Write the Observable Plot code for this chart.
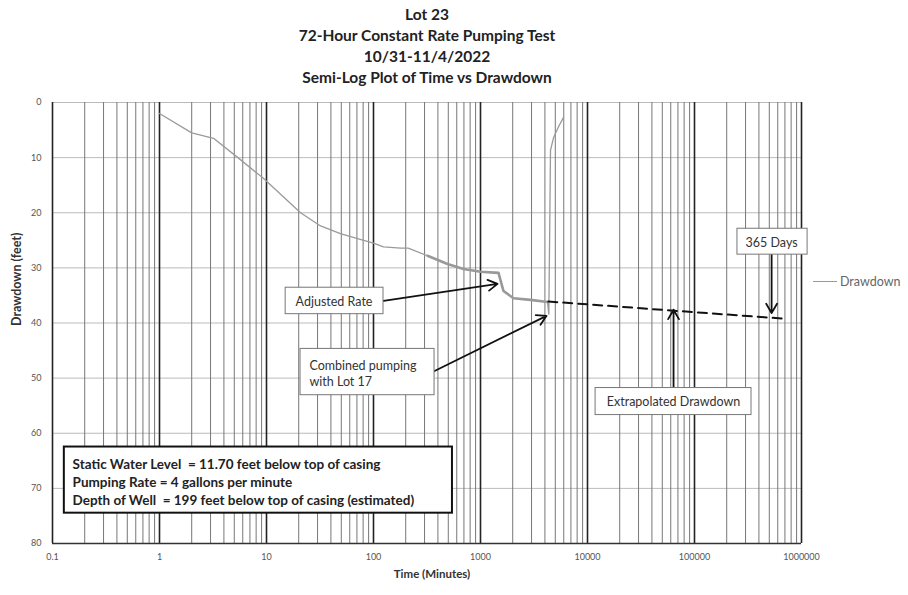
<!DOCTYPE html>
<html><head><meta charset="utf-8">
<script src="https://cdn.jsdelivr.net/npm/d3@7"></script>
<script src="https://cdn.jsdelivr.net/npm/@observablehq/plot@0.6"></script>
<style>
body{margin:0;background:#fff;font-family:Lato,"Open Sans",sans-serif;}
#wrap{position:relative;width:908px;height:595px;overflow:hidden;}
#title{position:absolute;left:0;top:4px;width:854px;text-align:center;font-weight:bold;font-size:15.5px;line-height:21px;color:#222;}
#chart{position:absolute;left:0;top:92px;}
#legend{position:absolute;left:813px;top:274px;font-size:12.5px;color:#666;display:flex;align-items:center;white-space:nowrap;}
#legend .sw{display:inline-block;width:24px;height:0;border-top:1.2px solid #999;margin-right:3px;}
</style></head>
<body><div id="wrap"><div id="title"></div><div id="chart"></div><div id="legend"><span class="sw"></span><span id="legtxt"></span></div></div>
<script>
// ---- text ----
const titleLines = ["Lot 23", "72-Hour Constant Rate Pumping Test", "10/31-11/4/2022", "Semi-Log Plot of Time vs Drawdown"];
const seriesName = "Drawdown";
const xLabel = "Time (Minutes)";
const yLabel = "Drawdown (feet)";

// ---- measured drawdown series (time in minutes, drawdown in feet) ----
const timeMin = [1, 2, 3.2, 5.4, 9.4, 20.8, 32, 49, 71, 100, 124, 179, 211, 320, 492, 694, 1000, 1473, 1517, 1640, 2033, 2930, 4230, 4350, 4450, 4510, 4810, 5360, 5970];
const drawdownFt = [2.0, 5.5, 6.5, 10, 13.8, 20, 22.4, 23.8, 24.7, 25.5, 26.2, 26.4, 26.4, 27.8, 29.3, 30.2, 30.7, 30.9, 31.8, 34.2, 35.5, 35.8, 36.2, 38.4, 20, 8.7, 6.4, 4.4, 2.7];

// ---- extrapolated drawdown ----
const extrapTime = [4300, 665000];
const extrapDrawdown = [36.1, 39.2];

// ---- axes ----
const xTickValues = [0.1, 1, 10, 100, 1000, 10000, 100000, 1000000];
const xTickLabels = ["0.1", "1", "10", "100", "1000", "10000", "100000", "1000000"];
const yTickValues = [0, 10, 20, 30, 40, 50, 60, 70, 80];
const decades = [0.1, 1, 10, 100, 1000, 10000, 100000];
const minorMultipliers = [2, 3, 4, 5, 6, 7, 8, 9];

// ---- annotations (data units: minutes, feet) ----
const noteText = ["Adjusted Rate", "Combined pumping\nwith Lot 17", "Extrapolated Drawdown", "365 Days"];
const noteBoxT1 = [15.1, 20.8, 11900, 252000];
const noteBoxT2 = [124, 372, 341000, 1140000];
const noteBoxD1 = [33.6, 44.7, 51.8, 22.9];
const noteBoxD2 = [38.4, 53.1, 56.7, 27.6];
const noteTextT = [18.7, 25.2, 63700, 525600];
const noteTextD = [36.0, 49.1, 54.2, 25.3];
const noteAnchor = ["start", "start", "middle", "middle"];
const arrowT1 = [124, 372, 63700, 525600];
const arrowD1 = [36.0, 48.7, 51.8, 27.6];
const arrowT2 = [1443, 4140, 63700, 525600];
const arrowD2 = [32.9, 38.7, 37.6, 38.2];

const infoText = "Static Water Level  = 11.70 feet below top of casing\nPumping Rate = 4 gallons per minute\nDepth of Well  = 199 feet below top of casing (estimated)";
const infoBox = {t1: 0.129, t2: 547, d1: 62.5, d2: 74.5, textT: 0.154, textD: 68.7};

// ---- build ----
document.getElementById("title").innerHTML = titleLines.map(s => `<div>${s}</div>`).join("");
document.getElementById("legtxt").textContent = seriesName;

const rows = timeMin.map((t, i) => ({t, d: drawdownFt[i]}));
const extrap = extrapTime.map((t, i) => ({t, d: extrapDrawdown[i]}));
const minor = decades.flatMap(d => minorMultipliers.map(m => d * m));
const major = xTickValues;
const notes = noteText.map((s, i) => ({
  s, t1: noteBoxT1[i], t2: noteBoxT2[i], d1: noteBoxD1[i], d2: noteBoxD2[i],
  tt: noteTextT[i], td: noteTextD[i], anchor: noteAnchor[i],
  at1: arrowT1[i], ad1: arrowD1[i], at2: arrowT2[i], ad2: arrowD2[i]
}));
const labelOf = new Map(xTickValues.map((v, i) => [v, xTickLabels[i]]));

const chart = Plot.plot({
  width: 908,
  height: 503,
  marginLeft: 52,
  marginRight: 107,
  marginTop: 10,
  marginBottom: 52,
  style: {fontFamily: "Lato, 'Open Sans', sans-serif", background: "white"},
  x: {type: "log", domain: [0.1, 1000000]},
  y: {domain: [0, 80], reverse: true},
  marks: [
    Plot.ruleY(yTickValues.slice(0, -1), {stroke: "#bbb", strokeWidth: 1}),
    Plot.ruleX(minor, {stroke: "#777", strokeWidth: 1}),
    Plot.ruleX(major, {stroke: "#222", strokeWidth: 1.6}),
    Plot.ruleY([80], {stroke: "#333", strokeWidth: 1.6}),
    Plot.axisY({ticks: yTickValues, tickSize: 0, tickPadding: 11, fontSize: 9, color: "#555", label: null}),
    Plot.axisX({ticks: xTickValues, tickSize: 0, tickPadding: 10, fontSize: 9, color: "#555", label: null, tickFormat: v => labelOf.get(v) ?? ""}),
    Plot.text([yLabel], {frameAnchor: "left", dx: -36, dy: 3, rotate: -90, fontWeight: "bold", fontSize: 12.5, fill: "#333"}),
    Plot.text([xLabel], {frameAnchor: "bottom", dy: 34, dx: 5, fontWeight: "bold", fontSize: 11.5, fill: "#333"}),
    Plot.line(rows, {x: "t", y: "d", stroke: "#9a9a9a", strokeWidth: 1.3}),
    Plot.line(rows.filter(r => r.t >= 300 && r.t <= 4300), {x: "t", y: "d", stroke: "#999", strokeWidth: 2.6}),
    Plot.line(extrap, {x: "t", y: "d", stroke: "#111", strokeWidth: 2, strokeDasharray: "9,6"}),
    Plot.rect([infoBox], {x1: "t1", x2: "t2", y1: "d1", y2: "d2", fill: "white", stroke: "#111", strokeWidth: 2}),
    Plot.text([infoBox], {x: "textT", y: "textD", text: () => infoText, textAnchor: "start", fontWeight: "bold", fontSize: 13.5, lineHeight: 1.33, fill: "#222", style: "white-space:pre"}),
    Plot.arrow(notes, {x1: "at1", y1: "ad1", x2: "at2", y2: "ad2", stroke: "#111", strokeWidth: 1.8, headLength: 9}),
    Plot.rect(notes, {x1: "t1", x2: "t2", y1: "d1", y2: "d2", fill: "white", stroke: "#777", strokeWidth: 1}),
    Plot.text(notes.filter(n => n.anchor === "start"), {x: "tt", y: "td", text: "s", textAnchor: "start", fontSize: 12.5, lineHeight: 1.28, fill: "#333"}),
    Plot.text(notes.filter(n => n.anchor === "middle"), {x: "tt", y: "td", text: "s", textAnchor: "middle", fontSize: 12.5, lineHeight: 1.28, fill: "#333"})
  ]
});
document.getElementById("chart").appendChild(chart);
</script>
</body></html>
